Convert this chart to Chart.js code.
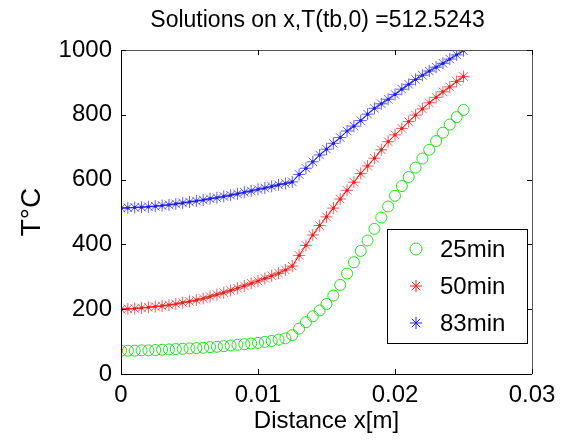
<!DOCTYPE html>
<html>
<head>
<meta charset="utf-8">
<script src="https://cdn.jsdelivr.net/npm/chart.js@4/dist/chart.umd.min.js"></script>
<style>
html,body{margin:0;padding:0;background:#fff;}
#wrap{width:569px;height:441px;position:relative;}
</style>
</head>
<body>
<div id="wrap"><canvas id="c" width="569" height="441"></canvas></div>
<script>
const xPositions = [0,0.0005,0.001,0.0015,0.002,0.0025,0.003,0.0035,0.004,0.0045,
  0.005,0.0055,0.006,0.0065,0.007,0.0075,0.008,0.0085,0.009,0.0095,
  0.01,0.0105,0.011,0.0115,0.012,0.0125,0.013,0.0135,0.014,0.0145,
  0.015,0.0155,0.016,0.0165,0.017,0.0175,0.018,0.0185,0.019,0.0195,
  0.02,0.0205,0.021,0.0215,0.022,0.0225,0.023,0.0235,0.024,0.0245,0.025];
const t25min = [72,72,72,73,73,74,75,76,77,78,
  79,80,81,83,84,86,88,90,92,94,
  96,99,102,106,110,120,140,160,178,196,
  216,242,275,310,345,380,412,448,483,517,
  550,580,608,637,665,692,719,745,770,793,815];
const t50min = [200,201,202,204,206,208,210,213,216,220,
  224,228,233,239,245,251,258,265,272,280,
  287,295,303,311,321,333,366,397,429,458,
  485,512,540,567,592,619,642,666,692,717,
  738,758,779,799,818,837,854,871,886,903,918];
const t83min = [512,513,514,515,516,518,520,522,525,528,
  531,534,537,541,544,548,552,556,561,565,
  570,574,579,584,588,593,616,635,655,676,
  694,712,730,750,765,782,802,820,834,848,
  863,879,894,909,922,935,947,959,972,985,998];
const seriesNames = ['25min','50min','83min'];
const xTicks = [0,0.01,0.02,0.03];
const xTickLabels = ['0','0.01','0.02','0.03'];
const yTicks = [0,200,400,600,800,1000];
const yTickLabels = ['0','200','400','600','800','1000'];
const titleText = 'Solutions on x,T(tb,0) =512.5243';
const xTitle = 'Distance x[m]';
const yTitle = 'T\u00B0C';

const FONT = '"Liberation Sans", Arial, Helvetica, sans-serif';
const pts = arr => arr.map((v,i)=>({x:xPositions[i], y:v}));

const boxPlugin = {
  id:'matlabBox',
  afterDraw(chart){
    const ctx = chart.ctx, a = chart.chartArea;
    ctx.save();
    // title centred over the axes
    ctx.font = '23px ' + FONT;
    ctx.fillStyle = '#000';
    ctx.textAlign = 'center';
    ctx.textBaseline = 'middle';
    ctx.fillText(titleText, (a.left + a.right)/2 - 9, 21);
    // axes box
    ctx.lineWidth = 1;
    ctx.strokeStyle = '#000';
    ctx.beginPath();
    ctx.moveTo(a.left+0.5, a.top); ctx.lineTo(a.left+0.5, a.bottom+0.5); ctx.lineTo(a.right, a.bottom+0.5);
    ctx.stroke();
    ctx.strokeStyle = '#555';
    ctx.beginPath();
    ctx.moveTo(a.left, a.top+0.5); ctx.lineTo(a.right+0.5, a.top+0.5); ctx.lineTo(a.right+0.5, a.bottom);
    ctx.stroke();
    // inward ticks
    const xs = chart.scales.x, ys = chart.scales.y;
    ctx.strokeStyle = '#000';
    ctx.beginPath();
    xTicks.forEach(v=>{
      const px = Math.round(xs.getPixelForValue(v))+0.5;
      ctx.moveTo(px, a.bottom); ctx.lineTo(px, a.bottom-5);
      ctx.moveTo(px, a.top); ctx.lineTo(px, a.top+5);
    });
    yTicks.forEach(v=>{
      const py = Math.round(ys.getPixelForValue(v))+0.5;
      ctx.moveTo(a.left, py); ctx.lineTo(a.left+5, py);
      ctx.moveTo(a.right, py); ctx.lineTo(a.right-5, py);
    });
    ctx.stroke();
    // legend
    const w = 140, h = 114;
    const lx = Math.round(a.right - 5 - w), ly = Math.round(a.bottom - 31 - h);
    ctx.fillStyle = '#fff';
    ctx.fillRect(lx, ly, w, h);
    ctx.strokeStyle = '#000';
    ctx.strokeRect(lx+0.5, ly+0.5, w, h);
    const markerDs = [0,1,3];
    seriesNames.forEach((name,i)=>{
      const ds = chart.data.datasets[markerDs[i]];
      const cy = ly + 20 + i*37;
      const cx = lx + 29;
      ctx.save();
      ctx.strokeStyle = ds.legendColor;
      ctx.fillStyle = 'rgba(0,0,0,0)';
      ctx.lineWidth = 1;
      Chart.helpers.drawPoint(ctx, {pointStyle: ds.pointStyle, radius: 6, borderWidth: 1}, cx, cy);
      ctx.restore();
      ctx.font = '24px ' + FONT;
      ctx.textBaseline = 'middle';
      ctx.textAlign = 'left';
      ctx.fillStyle = '#000';
      ctx.fillText(name, lx + 53, cy + 1);
    });
    ctx.restore();
  }
};

new Chart(document.getElementById('c'), {
  type:'scatter',
  data:{
    datasets:[
      {label:seriesNames[0], data:pts(t25min), showLine:false, pointStyle:'circle', pointRadius:5.5,
       pointBorderColor:'#22dd22', pointBackgroundColor:'rgba(0,0,0,0)', pointBorderWidth:1, borderColor:'#22dd22', legendColor:'#22dd22'},
      {label:seriesNames[1], data:pts(t50min), showLine:false, pointStyle:'star', pointRadius:6,
       pointBorderColor:'rgba(230,40,40,0.75)', pointBorderWidth:1, borderColor:'#ff0000', legendColor:'#ee2222'},
      {label:'50line', data:pts(t50min), showLine:true, borderColor:'#ff0000', borderWidth:1,
       pointStyle:'circle', pointRadius:1.6, pointBackgroundColor:'#ff0000', pointBorderColor:'#ff0000', pointBorderWidth:0},
      {label:seriesNames[2], data:pts(t83min), showLine:false, pointStyle:'star', pointRadius:6,
       pointBorderColor:'rgba(40,40,230,0.75)', pointBorderWidth:1, borderColor:'#0000ff', legendColor:'#2222ee'},
      {label:'83line', data:pts(t83min), showLine:true, borderColor:'#0000ff', borderWidth:1,
       pointStyle:'circle', pointRadius:1.6, pointBackgroundColor:'#0000ff', pointBorderColor:'#0000ff', pointBorderWidth:0}
    ]
  },
  options:{
    responsive:false,
    animation:false,
    layout:{padding:{left:0,right:37,top:50,bottom:0}},
    plugins:{
      legend:{display:false},
      tooltip:{enabled:false},
      title:{display:false}
    },
    scales:{
      x:{type:'linear', min:0, max:0.03,
        afterBuildTicks(s){ s.ticks = xTicks.map(v=>({value:v})); },
        afterFit(s){ s.height = 67; },
        grid:{display:false, drawTicks:false},
        border:{display:false},
        ticks:{color:'#000', padding:7, font:{family:FONT, size:24},
          callback:(v)=>{ const i = xTicks.indexOf(v); return i>=0 ? xTickLabels[i] : ''; }},
        title:{display:true, text:xTitle, color:'#000', font:{family:FONT, size:24}, padding:{top:0,bottom:5}}
      },
      y:{type:'linear', min:0, max:1000,
        afterBuildTicks(s){ s.ticks = yTicks.map(v=>({value:v})); },
        afterFit(s){ s.width = 121; },
        grid:{display:false, drawTicks:false},
        border:{display:false},
        ticks:{color:'#000', padding:9, font:{family:FONT, size:24},
          callback:(v)=>{ const i = yTicks.indexOf(v); return i>=0 ? yTickLabels[i] : ''; }},
        title:{display:true, text:yTitle, color:'#000', font:{family:FONT, size:28}, padding:{top:15,bottom:0}}
      }
    }
  },
  plugins:[boxPlugin]
});
</script>
</body>
</html>
